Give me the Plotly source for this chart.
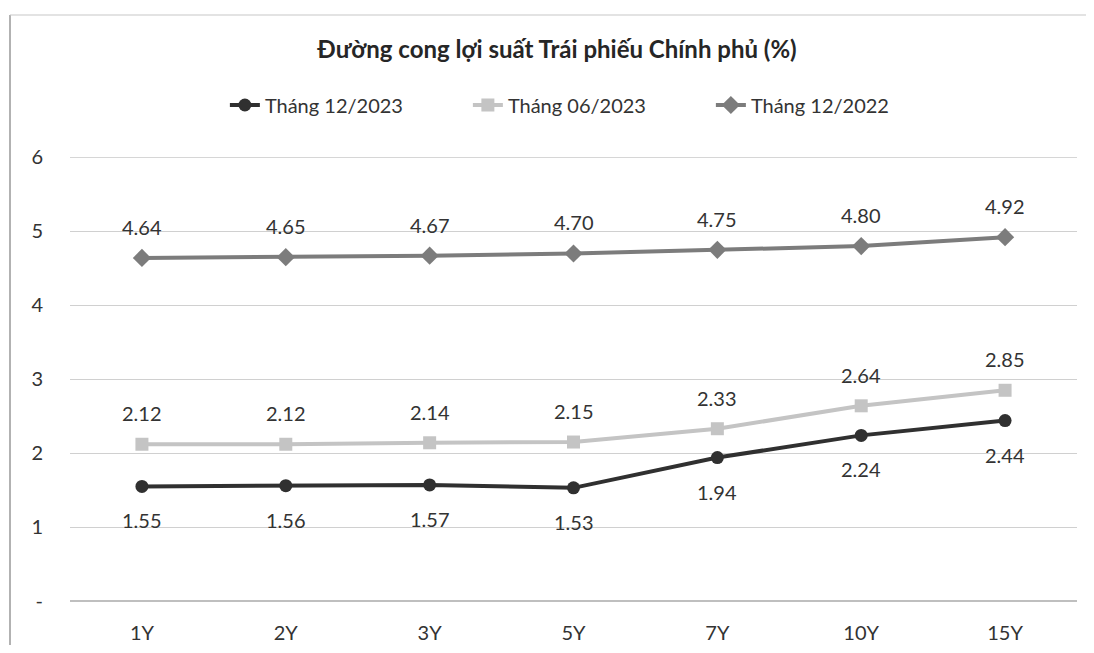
import plotly.graph_objects as go

categories = ["1Y", "2Y", "3Y", "5Y", "7Y", "10Y", "15Y"]
dec_2023 = [1.55, 1.56, 1.57, 1.53, 1.94, 2.24, 2.44]
jun_2023 = [2.12, 2.12, 2.14, 2.15, 2.33, 2.64, 2.85]
dec_2022 = [4.64, 4.65, 4.67, 4.70, 4.75, 4.80, 4.92]
y_ticks = [0, 1, 2, 3, 4, 5, 6]
y_tick_labels = ["-", "1", "2", "3", "4", "5", "6"]

FONT = "Lato, 'Open Sans', sans-serif"
TXT = "#333333"

series = [
    ("Tháng 12/2023", dec_2023, "#303030", "circle", 13, -34),
    ("Tháng 06/2023", jun_2023, "#c4c4c4", "square", 13, 31),
    ("Tháng 12/2022", dec_2022, "#7c7c7c", "diamond", 14, 31),
]

W, H = 1078, 637
L, R, T, B = 62, 9, 149, 44
plot_w = W - L - R
plot_h = H - T - B

fig = go.Figure()
annotations = []
for name, vals, color, sym, msize, shift in series:
    fig.add_trace(go.Scatter(
        x=categories, y=vals, name=name, mode="lines+markers",
        line=dict(color=color, width=4),
        marker=dict(symbol=sym, size=msize, color=color),
    ))
    for c, v in zip(categories, vals):
        annotations.append(dict(
            x=c, y=v, xref="x", yref="y", text=f"{v:.2f}", showarrow=False,
            yshift=shift, font=dict(family=FONT, size=20, color=TXT),
        ))

border_x = (2 - L) / plot_w
border_top = 1 + (T - 7) / plot_h

fig.update_layout(
    width=W, height=H,
    paper_bgcolor="white", plot_bgcolor="white",
    margin=dict(l=L, r=R, t=T, b=B, autoexpand=False),
    font=dict(family=FONT, size=20, color=TXT),
    title=dict(text="<b>Đường cong lợi suất Trái phiếu Chính phủ (%)</b>",
               x=(557 - 8) / W, xanchor="center",
               yref="container", y=1 - (50 - 8) / H, yanchor="middle",
               font=dict(family=FONT, size=24, color="#262626")),
    legend=dict(orientation="h", x=(564 - 8) / W, xanchor="center",
                yref="container", y=1 - (105 - 8) / H, yanchor="middle",
                font=dict(family=FONT, size=20, color=TXT),
                entrywidth=198, entrywidthmode="pixels", traceorder="normal"),
    showlegend=True,
    annotations=annotations,
    shapes=[
        dict(type="line", xref="paper", yref="paper", x0=border_x, x1=border_x,
             y0=-0.2, y1=border_top, line=dict(color="#999999", width=1.5)),
        dict(type="line", xref="paper", yref="paper", x0=border_x, x1=1.05,
             y0=border_top, y1=border_top, line=dict(color="#c8c8c8", width=1.2)),
        dict(type="line", xref="paper", yref="y", x0=0, x1=1,
             y0=y_ticks[-1], y1=y_ticks[-1], line=dict(color="#d0d0d0", width=1),
             layer="below"),
    ],
)
fig.update_xaxes(range=[-0.5, 6.5], showgrid=False, zeroline=False, showline=False,
                 ticks="", ticklabelstandoff=18,
                 tickfont=dict(family=FONT, size=20, color=TXT))
fig.update_yaxes(range=[0, 6.005], tickvals=y_ticks, ticktext=y_tick_labels,
                 showgrid=True, gridcolor="#d0d0d0", gridwidth=1,
                 zeroline=True, zerolinecolor="#bfbfbf", zerolinewidth=1.5,
                 showline=False, ticks="", ticklabelstandoff=26,
                 tickfont=dict(family=FONT, size=20, color=TXT))

fig.write_html("out.html")
